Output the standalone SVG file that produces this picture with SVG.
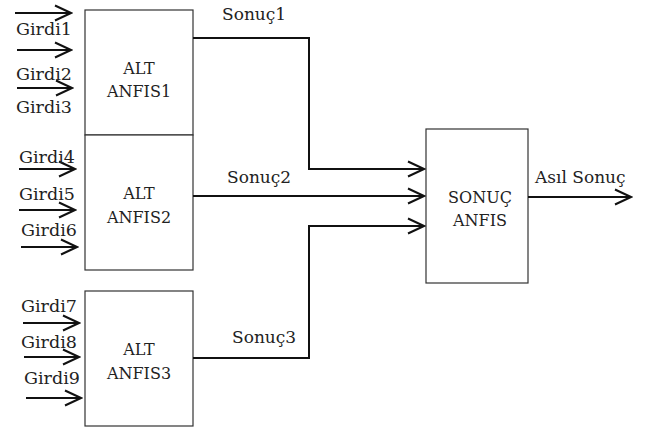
<svg xmlns="http://www.w3.org/2000/svg" width="646" height="428" viewBox="0 0 646 428">
<style>
.box{fill:#fff;stroke:#333;stroke-width:1.2}
.t{font-family:"DejaVu Serif","Liberation Serif",serif;font-size:16px;fill:#222}
.g{font-size:17.5px}
.s{font-size:17px}
.c{text-anchor:middle}
.w{fill:none;stroke:#111;stroke-width:2}
</style>
<defs>
<marker id="ah" markerUnits="userSpaceOnUse" viewBox="-19 -10 21 20" refX="0" refY="0" markerWidth="21" markerHeight="20" orient="auto">
<path d="M-16,-7.5 L0,0 L-16,7.5" fill="none" stroke="#111" stroke-width="2"/>
</marker>
</defs>
<rect width="646" height="428" fill="#fff"/>
<g id="alt1">
<rect class="box" x="85" y="10" width="108" height="125"/>
<text class="t c" x="139" y="74">ALT</text>
<text class="t c" x="139" y="97">ANFIS1</text>
</g>
<g id="alt2">
<rect class="box" x="85" y="135" width="108" height="135"/>
<text class="t c" x="139" y="199">ALT</text>
<text class="t c" x="139" y="223">ANFIS2</text>
</g>
<g id="alt3">
<rect class="box" x="85" y="291" width="108" height="135"/>
<text class="t c" x="139" y="355">ALT</text>
<text class="t c" x="139" y="379">ANFIS3</text>
</g>
<g id="sonuc">
<rect class="box" x="426" y="129" width="102" height="154"/>
<text class="t c" x="480" y="203">SONUÇ</text>
<text class="t c" x="480" y="226">ANFIS</text>
</g>
<g id="connectors">
<line class="w" x1="15" y1="13" x2="71" y2="13" marker-end="url(#ah)"/>
<line class="w" x1="17" y1="50" x2="71" y2="50" marker-end="url(#ah)"/>
<line class="w" x1="17" y1="88" x2="72" y2="88" marker-end="url(#ah)"/>
<line class="w" x1="19" y1="169" x2="75" y2="169" marker-end="url(#ah)"/>
<line class="w" x1="19" y1="210" x2="75" y2="210" marker-end="url(#ah)"/>
<line class="w" x1="21" y1="247" x2="77" y2="247" marker-end="url(#ah)"/>
<line class="w" x1="23" y1="323" x2="79" y2="323" marker-end="url(#ah)"/>
<line class="w" x1="24" y1="357" x2="79" y2="357" marker-end="url(#ah)"/>
<line class="w" x1="26" y1="398" x2="81" y2="398" marker-end="url(#ah)"/>
<polyline class="w" points="193,38 309,38 309,169 424,169" marker-end="url(#ah)"/>
<line class="w" x1="193" y1="196" x2="424" y2="196" marker-end="url(#ah)"/>
<polyline class="w" points="193,358 309,358 309,226 424,226" marker-end="url(#ah)"/>
<line class="w" x1="528" y1="197" x2="631" y2="197" marker-end="url(#ah)"/>
</g>
<g id="labels">
<text class="t g" x="16" y="35">Girdi1</text>
<text class="t g" x="16" y="80">Girdi2</text>
<text class="t g" x="16" y="113">Girdi3</text>
<text class="t g" x="19" y="163">Girdi4</text>
<text class="t g" x="19" y="200">Girdi5</text>
<text class="t g" x="21" y="236">Girdi6</text>
<text class="t g" x="21" y="312">Girdi7</text>
<text class="t g" x="21" y="348">Girdi8</text>
<text class="t g" x="24" y="384">Girdi9</text>
<text class="t s" x="222" y="20">Sonuç1</text>
<text class="t s" x="227" y="183">Sonuç2</text>
<text class="t s" x="232" y="343">Sonuç3</text>
<text class="t s" x="535" y="183">Asıl Sonuç</text>
</g>
</svg>
